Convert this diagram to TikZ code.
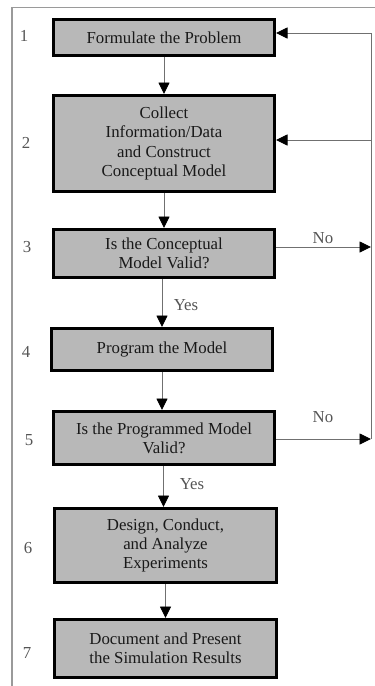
\documentclass[tikz,border=0pt]{standalone}
\usepackage{fontspec}
\setmainfont{Liberation Serif}
\usetikzlibrary{arrows.meta}
\definecolor{boxfill}{HTML}{B8B8B8}
\definecolor{linegray}{HTML}{707070}
\definecolor{framegray}{HTML}{9A9A9A}
\definecolor{labelgray}{HTML}{555555}
\begin{document}
\begin{tikzpicture}[x=1pt,y=-1pt,
  every node/.style={font=\fontsize{16.8}{19.3}\selectfont},
  stepbox/.style={draw=black,line width=3pt,fill=boxfill,minimum width=221pt,
    align=center,inner sep=0pt,text=black!90},
  flow/.style={draw=linegray,line width=0.9pt,
    -{Triangle[length=11.5pt,width=11pt,color=black,fill=black]}},
  stepnum/.style={text=labelgray},
  answer/.style={text=labelgray}]
\useasboundingbox (0,0) rectangle (375,686);

% outer frame (top and left edges)
\draw[framegray,line width=1.4pt] (12,686) -- (12,7.3) -- (375,7.3);

% process steps
\node[stepbox,minimum height=36pt] (b1) at (164,37.5) {Formulate the Problem};
\node[stepbox,minimum height=96pt] (b2) at (164,143.5)
  {Collect\\Information/Data\\and Construct\\Conceptual Model};
\node[stepbox,minimum height=48pt] (b3) at (164,253.5) {Is the Conceptual\\Model Valid?};
\node[stepbox,minimum height=42pt] (b4) at (162,349.5) {Program the Model};
\node[stepbox,minimum height=53pt] (b5) at (164,438) {Is the Programmed Model\\Valid?};
\node[stepbox,minimum height=74pt,minimum width=222pt] (b6) at (165.5,545.5)
  {Design, Conduct,\\and Analyze\\Experiments};
\node[stepbox,minimum height=58pt,minimum width=222pt] (b7) at (165.5,648.5)
  {Document and Present\\the Simulation Results};

% step numbers
\node[stepnum] (n1) at (24,36) {1};
\node[stepnum] (n2) at (26,143) {2};
\node[stepnum] (n3) at (27,247) {3};
\node[stepnum] (n4) at (26,352) {4};
\node[stepnum] (n5) at (29,440) {5};
\node[stepnum] (n6) at (28,548) {6};
\node[stepnum] (n7) at (27,653) {7};

% x positions of the two "Yes" drops
\coordinate (c3) at (162,0);
\coordinate (c5) at (163.5,0);

% main flow
\draw[flow] (b1.south) -- (b1.south |- b2.north);
\draw[flow] (b2.south) -- (b2.south |- b3.north);
\draw[flow] (b3.south -| c3) -- (b4.north -| c3);
\draw[flow] (b4.south) -- (b4.south |- b5.north);
\draw[flow] (b5.south -| c5) -- (b6.north -| c5);
\draw[flow] (b6.south) -- (b6.south |- b7.north);

\node[answer] (y1) at (186,305) {Yes};
\node[answer] (y2) at (192,484) {Yes};

% feedback return line
\coordinate (r1) at (371,33);
\coordinate (r2) at (371,140);
\coordinate (r3) at (371,247);
\coordinate (r5) at (371,439);
\draw[draw=linegray,line width=0.9pt] (r1) -- (r5);
\draw[flow] (r1) -- (r1 -| b1.east);
\draw[flow] (r2) -- (r2 -| b2.east);
\draw[flow] (b3.east |- r3) -- (r3);
\draw[flow] (b5.east |- r5) -- (r5);

\node[answer] (no1) at (323,238) {No};
\node[answer] (no2) at (323,417) {No};
\end{tikzpicture}
\end{document}
